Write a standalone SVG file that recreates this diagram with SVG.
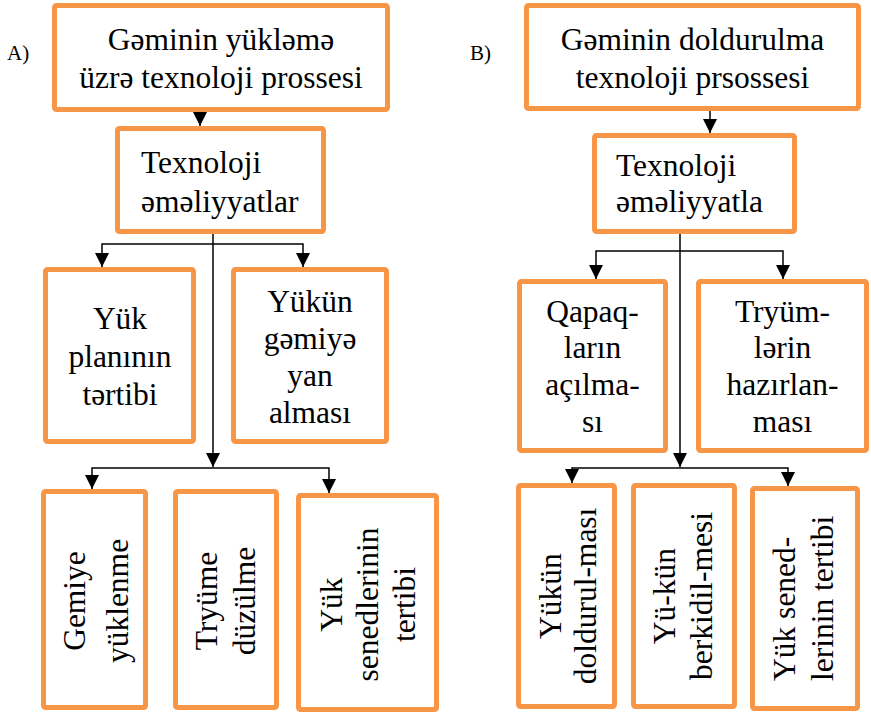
<svg xmlns="http://www.w3.org/2000/svg" width="871" height="714" viewBox="0 0 871 714">
<style>
.box{fill:#fff;stroke:#F79646;stroke-width:5;}
.t{font-family:"Liberation Serif","Times New Roman","DejaVu Serif",serif;font-size:31.5px;fill:#000;}
.c{text-anchor:middle;}
.lbl{font-family:"Liberation Serif","Times New Roman","DejaVu Serif",serif;font-size:21px;fill:#000;}
.ln{fill:none;stroke:#000;stroke-width:1.5;}
</style>
<defs>
<marker id="ah" markerUnits="userSpaceOnUse" markerWidth="14" markerHeight="14" refX="14" refY="7" orient="auto">
<path d="M0,0 L14,7 L0,14 z" fill="#000"/>
</marker>
</defs>
<rect width="871" height="714" fill="#fff"/>
<text class="lbl" x="7" y="60">A)</text>
<text class="lbl" x="470" y="60">B)</text>

<g id="connectors">
<path class="ln" d="M200,112 V126" marker-end="url(#ah)"/>
<path class="ln" d="M213,234 V467" marker-end="url(#ah)"/>
<path class="ln" d="M213,244 H102 V267" marker-end="url(#ah)"/>
<path class="ln" d="M213,244 H303 V267" marker-end="url(#ah)"/>
<path class="ln" d="M213,468 H92 V489" marker-end="url(#ah)"/>
<path class="ln" d="M213,468 H329 V493" marker-end="url(#ah)"/>
<path class="ln" d="M710,111 V133" marker-end="url(#ah)"/>
<path class="ln" d="M680,234 V467" marker-end="url(#ah)"/>
<path class="ln" d="M680,251 H596 V279" marker-end="url(#ah)"/>
<path class="ln" d="M680,251 H783 V279" marker-end="url(#ah)"/>
<path class="ln" d="M680,468 H572 V483" marker-end="url(#ah)"/>
<path class="ln" d="M680,468 H788 V486" marker-end="url(#ah)"/>
</g>

<g id="a_top">
<rect class="box" x="54.5" y="5.5" width="333" height="104" rx="2"/>
<text class="t c" x="221" y="50">Gəminin yükləmə</text>
<text class="t c" x="221" y="88">üzrə texnoloji prossesi</text>
</g>
<g id="a_ops">
<rect class="box" x="117.5" y="128.5" width="206" height="103" rx="2"/>
<text class="t" x="141" y="173">Texnoloji</text>
<text class="t" x="141" y="212">əməliyyatlar</text>
</g>
<g id="a_plan">
<rect class="box" x="45.5" y="269.5" width="148" height="172" rx="2"/>
<text class="t c" x="120" y="329">Yük</text>
<text class="t c" x="120" y="367">planının</text>
<text class="t c" x="120" y="405">tərtibi</text>
</g>
<g id="a_yan">
<rect class="box" x="233.5" y="269.5" width="153" height="172" rx="2"/>
<text class="t c" x="310" y="312">Yükün</text>
<text class="t c" x="310" y="349">gəmiyə</text>
<text class="t c" x="310" y="386">yan</text>
<text class="t c" x="310" y="423">alması</text>
</g>
<g id="a_yuklenme">
<rect class="box" x="43.5" y="491.5" width="102" height="216" rx="2"/>
<g transform="translate(94.5,601) rotate(-90)">
<text class="t c" x="0" y="-9.5">Gemiye</text>
<text class="t c" x="0" y="33.5">yüklenme</text>
</g>
</g>
<g id="a_tryume">
<rect class="box" x="175.5" y="491.5" width="101" height="216" rx="2"/>
<g transform="translate(226,601) rotate(-90)">
<text class="t c" x="0" y="-9">Tryüme</text>
<text class="t c" x="0" y="29">düzülme</text>
</g>
</g>
<g id="a_sened">
<rect class="box" x="298.5" y="495.5" width="138" height="214" rx="2"/>
<g transform="translate(367.5,604.5) rotate(-90)">
<text class="t c" x="0" y="-25.5">Yük</text>
<text class="t c" x="0" y="10.5">senedlerinin</text>
<text class="t c" x="0" y="47.5">tertibi</text>
</g>
</g>

<g id="b_top">
<rect class="box" x="526.5" y="5.5" width="332" height="103" rx="2"/>
<text class="t c" x="692.5" y="50">Gəminin doldurulma</text>
<text class="t c" x="692.5" y="88">texnoloji prsossesi</text>
</g>
<g id="b_ops">
<rect class="box" x="594.5" y="135.5" width="200" height="96" rx="2"/>
<text class="t" x="616" y="176">Texnoloji</text>
<text class="t" x="616" y="212">əməliyyatla</text>
</g>
<g id="b_qapaq">
<rect class="box" x="519.5" y="281.5" width="146" height="169" rx="2"/>
<text class="t c" x="592.5" y="322">Qapaq-</text>
<text class="t c" x="592.5" y="358">ların</text>
<text class="t c" x="592.5" y="395">açılma-</text>
<text class="t c" x="592.5" y="432">sı</text>
</g>
<g id="b_tryum">
<rect class="box" x="698.5" y="281.5" width="168" height="169" rx="2"/>
<text class="t c" x="782.5" y="322">Tryüm-</text>
<text class="t c" x="782.5" y="358">lərin</text>
<text class="t c" x="782.5" y="395">hazırlan-</text>
<text class="t c" x="782.5" y="432">ması</text>
</g>
<g id="b_doldurulma">
<rect class="box" x="518.5" y="485.5" width="96" height="221" rx="2"/>
<g transform="translate(566.5,596) rotate(-90)">
<text class="t c" x="0" y="-5.5">Yükün</text>
<text class="t c" x="0" y="29.5">doldurul-ması</text>
</g>
</g>
<g id="b_berkidilme">
<rect class="box" x="633.5" y="485.5" width="101" height="221" rx="2"/>
<g transform="translate(684,596) rotate(-90)">
<text class="t c" x="0" y="-9">Yü-kün</text>
<text class="t c" x="0" y="28">berkidil-mesi</text>
</g>
</g>
<g id="b_sened">
<rect class="box" x="752.5" y="488.5" width="105" height="220" rx="2"/>
<g transform="translate(805,681) rotate(-90)">
<text class="t" x="0" y="-10">Yük sened-</text>
<text class="t" x="0" y="28">lerinin tertibi</text>
</g>
</g>
</svg>
